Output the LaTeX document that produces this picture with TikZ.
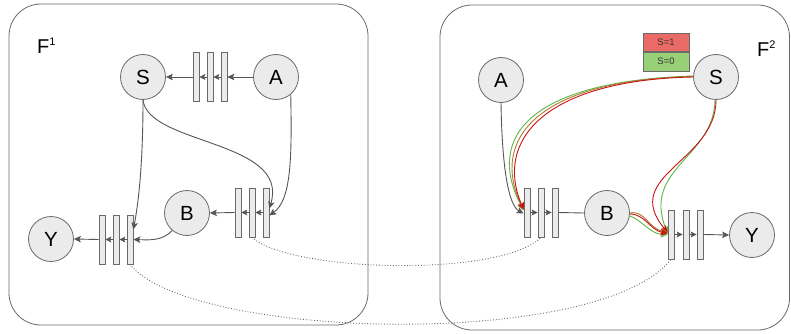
\documentclass[tikz,border=0pt]{standalone}
\usepackage{fontspec}
\setmainfont{Liberation Sans}
\usetikzlibrary{arrows.meta}
\definecolor{linegray}{HTML}{555555}
\definecolor{nodegray}{HTML}{EBEBEB}
\definecolor{edgegray}{HTML}{6A6A6A}
\definecolor{legred}{HTML}{EA6B66}
\definecolor{leggreen}{HTML}{97D077}
\definecolor{pathred}{HTML}{CC1111}
\definecolor{pathgreen}{HTML}{5DB54A}
\definecolor{pathbrown}{HTML}{B07A30}

\begin{document}
\begin{tikzpicture}[x=1pt,y=-1pt,
  panel/.style={draw=edgegray, line width=0.8pt, rounded corners=32pt},
  var/.style={circle, draw=edgegray, fill=nodegray, line width=0.8pt,
    minimum size=45pt, inner sep=0pt, font=\fontsize{20.5}{20.5}\selectfont},
  slot/.style={rectangle, draw=edgegray, fill=nodegray, line width=0.7pt,
    minimum width=6pt, minimum height=49pt, inner sep=0pt},
  link/.style={draw=linegray, line width=0.9pt},
  arr/.style={link, -{Stealth[length=7pt,width=6.5pt,inset=1.5pt]}},
  hop/.style={link, -{Stealth[length=6pt,width=6pt,inset=1.2pt]}},
  rpath/.style={draw=pathred, line width=0.9pt, -{Stealth[length=7pt,width=6.5pt,inset=1.5pt]}},
  gpath/.style={draw=pathgreen, line width=0.9pt, -{Stealth[length=7pt,width=6.5pt,inset=1.5pt]}},
  bpath/.style={draw=pathbrown, line width=0.9pt, -{Stealth[length=7pt,width=6.5pt,inset=1.5pt]}},
  trace/.style={draw=edgegray, line width=0.9pt, dash pattern=on 0.9pt off 1.9pt},
  frame label/.style={anchor=base west, inner sep=0pt, font=\fontsize{20}{20}\selectfont},
  legend/.style={draw=edgegray, line width=0.6pt, minimum width=46pt, minimum height=18.5pt,
    inner sep=0pt, text=black!80, font=\fontsize{9.5}{9.5}\selectfont}
]
\useasboundingbox (0,0) rectangle (791,334);

% the two panels
\draw[panel] (9,4) rectangle (368,325);
\draw[panel] (440,5) rectangle (789.5,330);

\node[frame label] (F1) at (37,54) {F\raisebox{8pt}{\fontsize{11}{11}\selectfont 1}};
\node[frame label] (F2) at (757,57) {F\raisebox{8pt}{\fontsize{11}{11}\selectfont 2}};

% ---- panel F1 ----
\node[var] (S1) at (143,77) {S};
\node[var] (A1) at (276,77) {A};
\node[var] (B1) at (187,213) {B};
\node[var] (Y1) at (51,239) {Y};
\node[slot] (p1) at (196,77) {};
\node[slot] (p2) at (210,77) {};
\node[slot] (p3) at (224,77) {};
\node[slot] (q1) at (238,212.5) {};
\node[slot] (q2) at (252,212.5) {};
\node[slot] (q3) at (266,212.5) {};
\node[slot] (r1) at (102,239.5) {};
\node[slot] (r2) at (116,239.5) {};
\node[slot] (r3) at (130,239.5) {};

\draw[arr] (A1.west) -- (p3.east);
\draw[hop] (p3.west) -- (p2.east);
\draw[hop] (p2.west) -- (p1.east);
\draw[arr] (p1.west) -- (S1.east);

\draw[hop] (q3.west) -- (q2.east);
\draw[hop] (q2.west) -- (q1.east);
\draw[arr] (q1.west) -- (B1.east);

\draw[hop] (r3.west) -- (r2.east);
\draw[hop] (r2.west) -- (r1.east);
\draw[arr] (r1.west) -- (Y1.east);

\draw[arr] (S1.south) .. controls (148,145) and (290,140) .. ([yshift=4pt]q3.east);
\draw[arr] (A1.-50) .. controls (292,160) and (291,200) .. ([yshift=-3pt]q3.east);
\draw[arr] (S1.south) .. controls (143,160) and (139,200) .. ([yshift=10pt]r3.east);
\draw[arr] (B1.-130) .. controls (162,241) and (150,240) .. (r3.east);

% ---- panel F2 ----
\node[var] (A2) at (501,80) {A};
\node[var] (S2) at (716,77) {S};
\node[var] (B2) at (607,213) {B};
\node[var] (Y2) at (752,235) {Y};
\node[slot] (u1) at (527,212.5) {};
\node[slot] (u2) at (541,212.5) {};
\node[slot] (u3) at (555,212.5) {};
\node[slot] (v1) at (671,234.5) {};
\node[slot] (v2) at (686,234.5) {};
\node[slot] (v3) at (700,234.5) {};

\node[legend, fill=legred] (L1) at (666,42.5) {S=1};
\node[legend, fill=leggreen, anchor=north] (L0) at (L1.south) {S=0};

\draw[arr] (A2.south) .. controls (502,165) and (508,205) .. ([yshift=-1pt]u1.west);
\draw[hop] (u1.east) -- (u2.west);
\draw[hop] (u2.east) -- (u3.west);
\draw[link] (u3.east) -- (B2.west);

\draw[hop] (v1.east) -- (v2.west);
\draw[hop] (v2.east) -- (v3.west);
\draw[arr] (v3.east) -- (Y2.west);

% S -> first slot group, per value of S
\draw[gpath] ([yshift=1pt]S2.west) .. controls (533,81) and (484,135) .. ([yshift=2pt]u1.west);
\draw[bpath] ([yshift=0.5pt]S2.west) .. controls (539,80) and (489,138) .. ([yshift=2.5pt]u1.west);
\draw[rpath] (S2.west) .. controls (545,80) and (494,140) .. ([yshift=3pt]u1.west);

% S -> second slot group
\draw[gpath] ([xshift=-1pt]S2.south) .. controls (714,158) and (642,168) .. ([yshift=1pt]v1.west);
\draw[rpath] (S2.south) .. controls (716,162) and (620,175) .. ([yshift=2pt]v1.west);

% B -> second slot group
\draw[gpath] ([yshift=-3pt]B2.east) .. controls (642,220) and (650,234) .. (v1.west);
\draw[bpath] (B2.east) .. controls (645,210) and (648,228) .. ([yshift=2pt]v1.west);
\draw[rpath] ([yshift=-1pt]B2.east) .. controls (645,214) and (650,230) .. ([yshift=1pt]v1.west);

% links between the two panels
\draw[trace] (q2.south) .. controls (290,272) and (500,278) .. (u2.south);
\draw[trace] (r3.south) .. controls (190,340) and (600,350) .. (v1.south);
\end{tikzpicture}
\end{document}
